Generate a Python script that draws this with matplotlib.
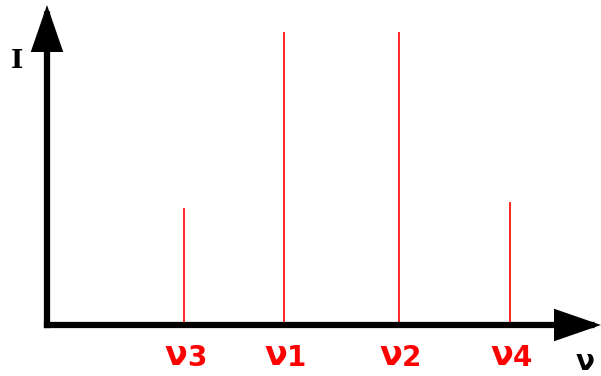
import matplotlib.pyplot as plt

# line positions (arbitrary frequency units) and relative intensities
freqs = [1.37, 2.37, 3.52, 4.63]
intens = [0.40, 1.00, 1.00, 0.42]
labels = ["3", "1", "2", "4"]

fig = plt.figure(figsize=(6.01, 3.76), dpi=100)
ax = fig.add_axes([47 / 601, 51 / 376, 554 / 601, 320 / 376])
ax.set_xlim(0, 5.54)
ax.set_ylim(0, 1.092)
ax.axis("off")

# spectral lines
ax.vlines(freqs, 0, intens, color="red", lw=1.2)

# axes with arrow heads
arrow = dict(arrowstyle="-|>,head_length=1.3,head_width=0.45", lw=4.5,
             color="black", mutation_scale=19, shrinkA=0, shrinkB=0,
             capstyle="projecting", joinstyle="miter")
ax.annotate("", xy=(0, 1.0), xytext=(0, 0), xycoords="axes fraction",
            arrowprops=arrow, annotation_clip=False)
ax.annotate("", xy=(1.0, 0), xytext=(0, 0), xycoords="axes fraction",
            arrowprops=arrow, annotation_clip=False)

# labels under each line
for f, lab in zip(freqs, labels):
    ax.annotate("ν", xy=(f, 0), xytext=(2, -22), textcoords="offset points",
                ha="right", va="center", color="red", fontsize=24,
                fontweight="bold", annotation_clip=False)
    ax.annotate(lab, xy=(f, 0), xytext=(2, -23.5), textcoords="offset points",
                ha="left", va="center", color="red", fontsize=20,
                fontweight="bold", annotation_clip=False)

fig.text(17 / 601, 1 - 61 / 376, "I", ha="center", va="center",
         fontsize=19, family="DejaVu Serif", fontweight="bold")
fig.text(585 / 601, 1 - 362 / 376, "ν", ha="center", va="center",
         fontsize=20, fontweight="bold")

plt.savefig("out.png", dpi=100)
